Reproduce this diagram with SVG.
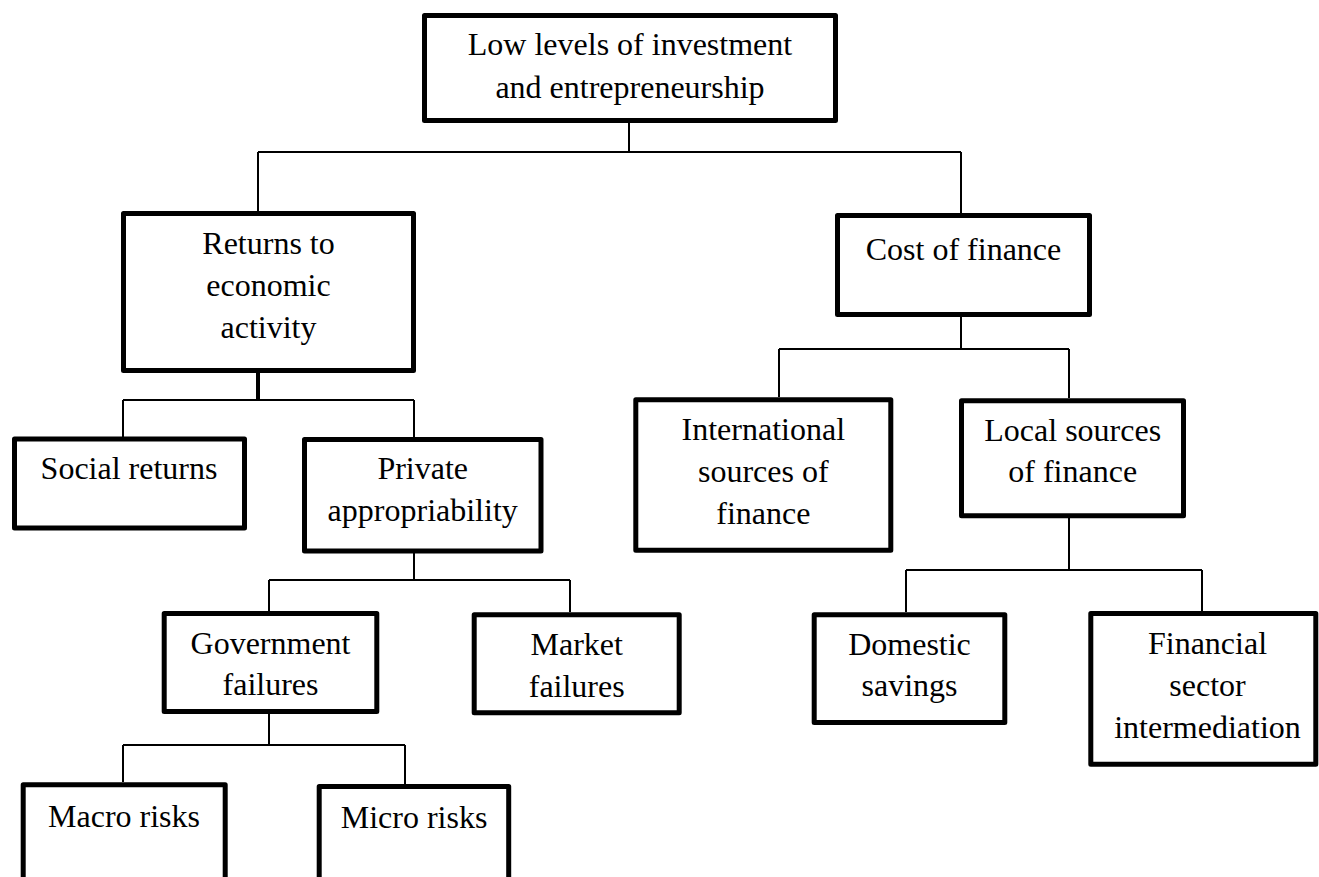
<svg xmlns="http://www.w3.org/2000/svg" width="1319" height="877" viewBox="0 0 1319 877">
<style>
.box{fill:#fff;stroke:#000;stroke-width:5;stroke-linejoin:round}
.t{font-family:"Liberation Serif","Times New Roman",serif;font-size:32px;fill:#000;text-anchor:middle}
.c{fill:none;stroke:#000;stroke-width:2}
</style>
<rect width="1319" height="877" fill="#fff"/>
<g id="connectors">
<path class="c" d="M629 123V152M258 152H961M258 152V211M961 152V213"/>
<path class="c" style="stroke-width:4" d="M258 373V400"/>
<path class="c" d="M123 400H414M123 400V437M414 400V437"/>
<path class="c" d="M414 553V580M269 580H570M269 580V611M570 580V612"/>
<path class="c" d="M269 714V745M123 745H405M123 745V782M405 745V784"/>
<path class="c" d="M961 317V349M779 349H1069M779 349V397M1069 349V398"/>
<path class="c" d="M1069 518V570M906 570H1202M906 570V612M1202 570V611"/>
</g>
<g id="n-top"><rect class="box" x="424.5" y="15.5" width="411" height="105"/><text class="t" x="630" y="55">Low levels of investment</text><text class="t" x="630" y="98">and entrepreneurship</text></g>
<g id="n-returns"><rect class="box" x="123.5" y="213.5" width="290" height="157"/><text class="t" x="268.5" y="254">Returns to</text><text class="t" x="268.5" y="296">economic</text><text class="t" x="268.5" y="338">activity</text></g>
<g id="n-cost"><rect class="box" x="837.5" y="215.5" width="252" height="99"/><text class="t" x="963.5" y="260">Cost of finance</text></g>
<g id="n-social"><rect class="box" x="14.5" y="439" width="230" height="89"/><text class="t" x="129" y="479">Social returns</text></g>
<g id="n-private"><rect class="box" x="304.5" y="439.5" width="236.5" height="111.5"/><text class="t" x="422.7" y="479">Private</text><text class="t" x="422.7" y="521">appropriability</text></g>
<g id="n-intl"><rect class="box" x="635.8" y="399.8" width="255" height="150.5"/><text class="t" x="763.3" y="440">International</text><text class="t" x="763.3" y="482">sources of</text><text class="t" x="763.3" y="524">finance</text></g>
<g id="n-local"><rect class="box" x="961.5" y="400.8" width="222" height="115"/><text class="t" x="1072.7" y="441">Local sources</text><text class="t" x="1072.7" y="482">of finance</text></g>
<g id="n-gov"><rect class="box" x="164.2" y="613.5" width="212.6" height="98"/><text class="t" x="270.5" y="654">Government</text><text class="t" x="270.5" y="695">failures</text></g>
<g id="n-market"><rect class="box" x="474.2" y="614.8" width="205" height="98"/><text class="t" x="576.7" y="655">Market</text><text class="t" x="576.7" y="697">failures</text></g>
<g id="n-domestic"><rect class="box" x="814.2" y="614.8" width="190.6" height="107.7"/><text class="t" x="909.5" y="655">Domestic</text><text class="t" x="909.5" y="696">savings</text></g>
<g id="n-financial"><rect class="box" x="1090.8" y="613.5" width="225" height="150.7"/><text class="t" x="1207.5" y="654">Financial</text><text class="t" x="1207.5" y="696">sector</text><text class="t" x="1207.5" y="738">intermediation</text></g>
<g id="n-macro"><rect class="box" x="23.2" y="784.8" width="202" height="120"/><text class="t" x="124" y="827">Macro risks</text></g>
<g id="n-micro"><rect class="box" x="319.2" y="786.5" width="189.5" height="120"/><text class="t" x="414" y="828">Micro risks</text></g>
</svg>
